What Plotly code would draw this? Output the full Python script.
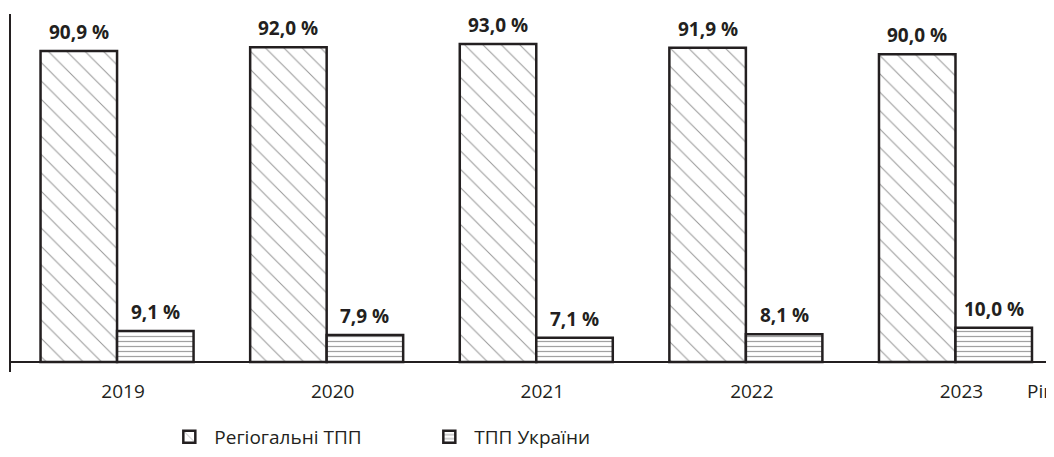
import plotly.graph_objects as go

years = ["2019", "2020", "2021", "2022", "2023"]
regional = [90.9, 92.0, 93.0, 91.9, 90.0]
ukraine = [9.1, 7.9, 7.1, 8.1, 10.0]
regional_labels = ["90,9 %", "92,0 %", "93,0 %", "91,9 %", "90,0 %"]
ukraine_labels = ["9,1 %", "7,9 %", "7,1 %", "8,1 %", "10,0 %"]

FONT = "Open Sans"
INK = "#231f20"
BARGAP = 0.27
half = (1 - BARGAP) / 4  # centre of each bar within its group, in category units

fig = go.Figure()
fig.add_trace(go.Bar(
    x=years, y=regional, name="Регіогальні ТПП",
    marker=dict(color="white", line=dict(color=INK, width=2.5),
                pattern=dict(shape="\\", fgcolor="#333333", bgcolor="white",
                             size=13, solidity=0.08)),
))
fig.add_trace(go.Bar(
    x=years, y=ukraine, name="ТПП України",
    marker=dict(color="white", line=dict(color=INK, width=2.5),
                pattern=dict(shape="-", fgcolor="#444444", bgcolor="white",
                             size=5, solidity=0.25)),
))

annotations = []
for i in range(len(years)):
    for val, lab, off in ((regional[i], regional_labels[i], -half),
                          (ukraine[i], ukraine_labels[i], half)):
        annotations.append(dict(
            x=i + off, y=val, xref="x", yref="y", text=lab, showarrow=False,
            yanchor="middle", yshift=19,
            font=dict(family=FONT, size=19, color=INK, weight="bold")))
annotations.append(dict(text="Рік", xref="paper", yref="paper", x=1.0, y=0,
                        xanchor="left", yanchor="middle", showarrow=False,
                        xshift=-29, yshift=-19,
                        font=dict(family=FONT, size=19, color=INK)))

fig.update_layout(
    width=1046, height=441,
    margin=dict(l=3, r=0, t=6, b=77, autoexpand=False),
    plot_bgcolor="white", paper_bgcolor="white",
    barmode="group", bargap=BARGAP, bargroupgap=0,
    font=dict(family=FONT, color=INK),
    xaxis=dict(range=[-0.506, 4.47], showgrid=False, showline=False,
               ticks="", tickfont=dict(family=FONT, size=19, color=INK),
               ticklabelshift=6, ticklabelstandoff=6, automargin=False),
    yaxis=dict(range=[-2.92, 101.75], showgrid=False, showticklabels=False,
               showline=True, linecolor=INK, linewidth=2,
               zeroline=True, zerolinecolor=INK, zerolinewidth=2,
               ticks="", automargin=False),
    showlegend=True,
    legend=dict(orientation="h", x=0.147, y=-0.128, xanchor="left", yanchor="top",
                font=dict(family=FONT, size=19, color=INK),
                itemwidth=40, entrywidth=205, entrywidthmode="pixels",
                traceorder="normal"),
    annotations=annotations,
)

fig.write_html("out.html")
